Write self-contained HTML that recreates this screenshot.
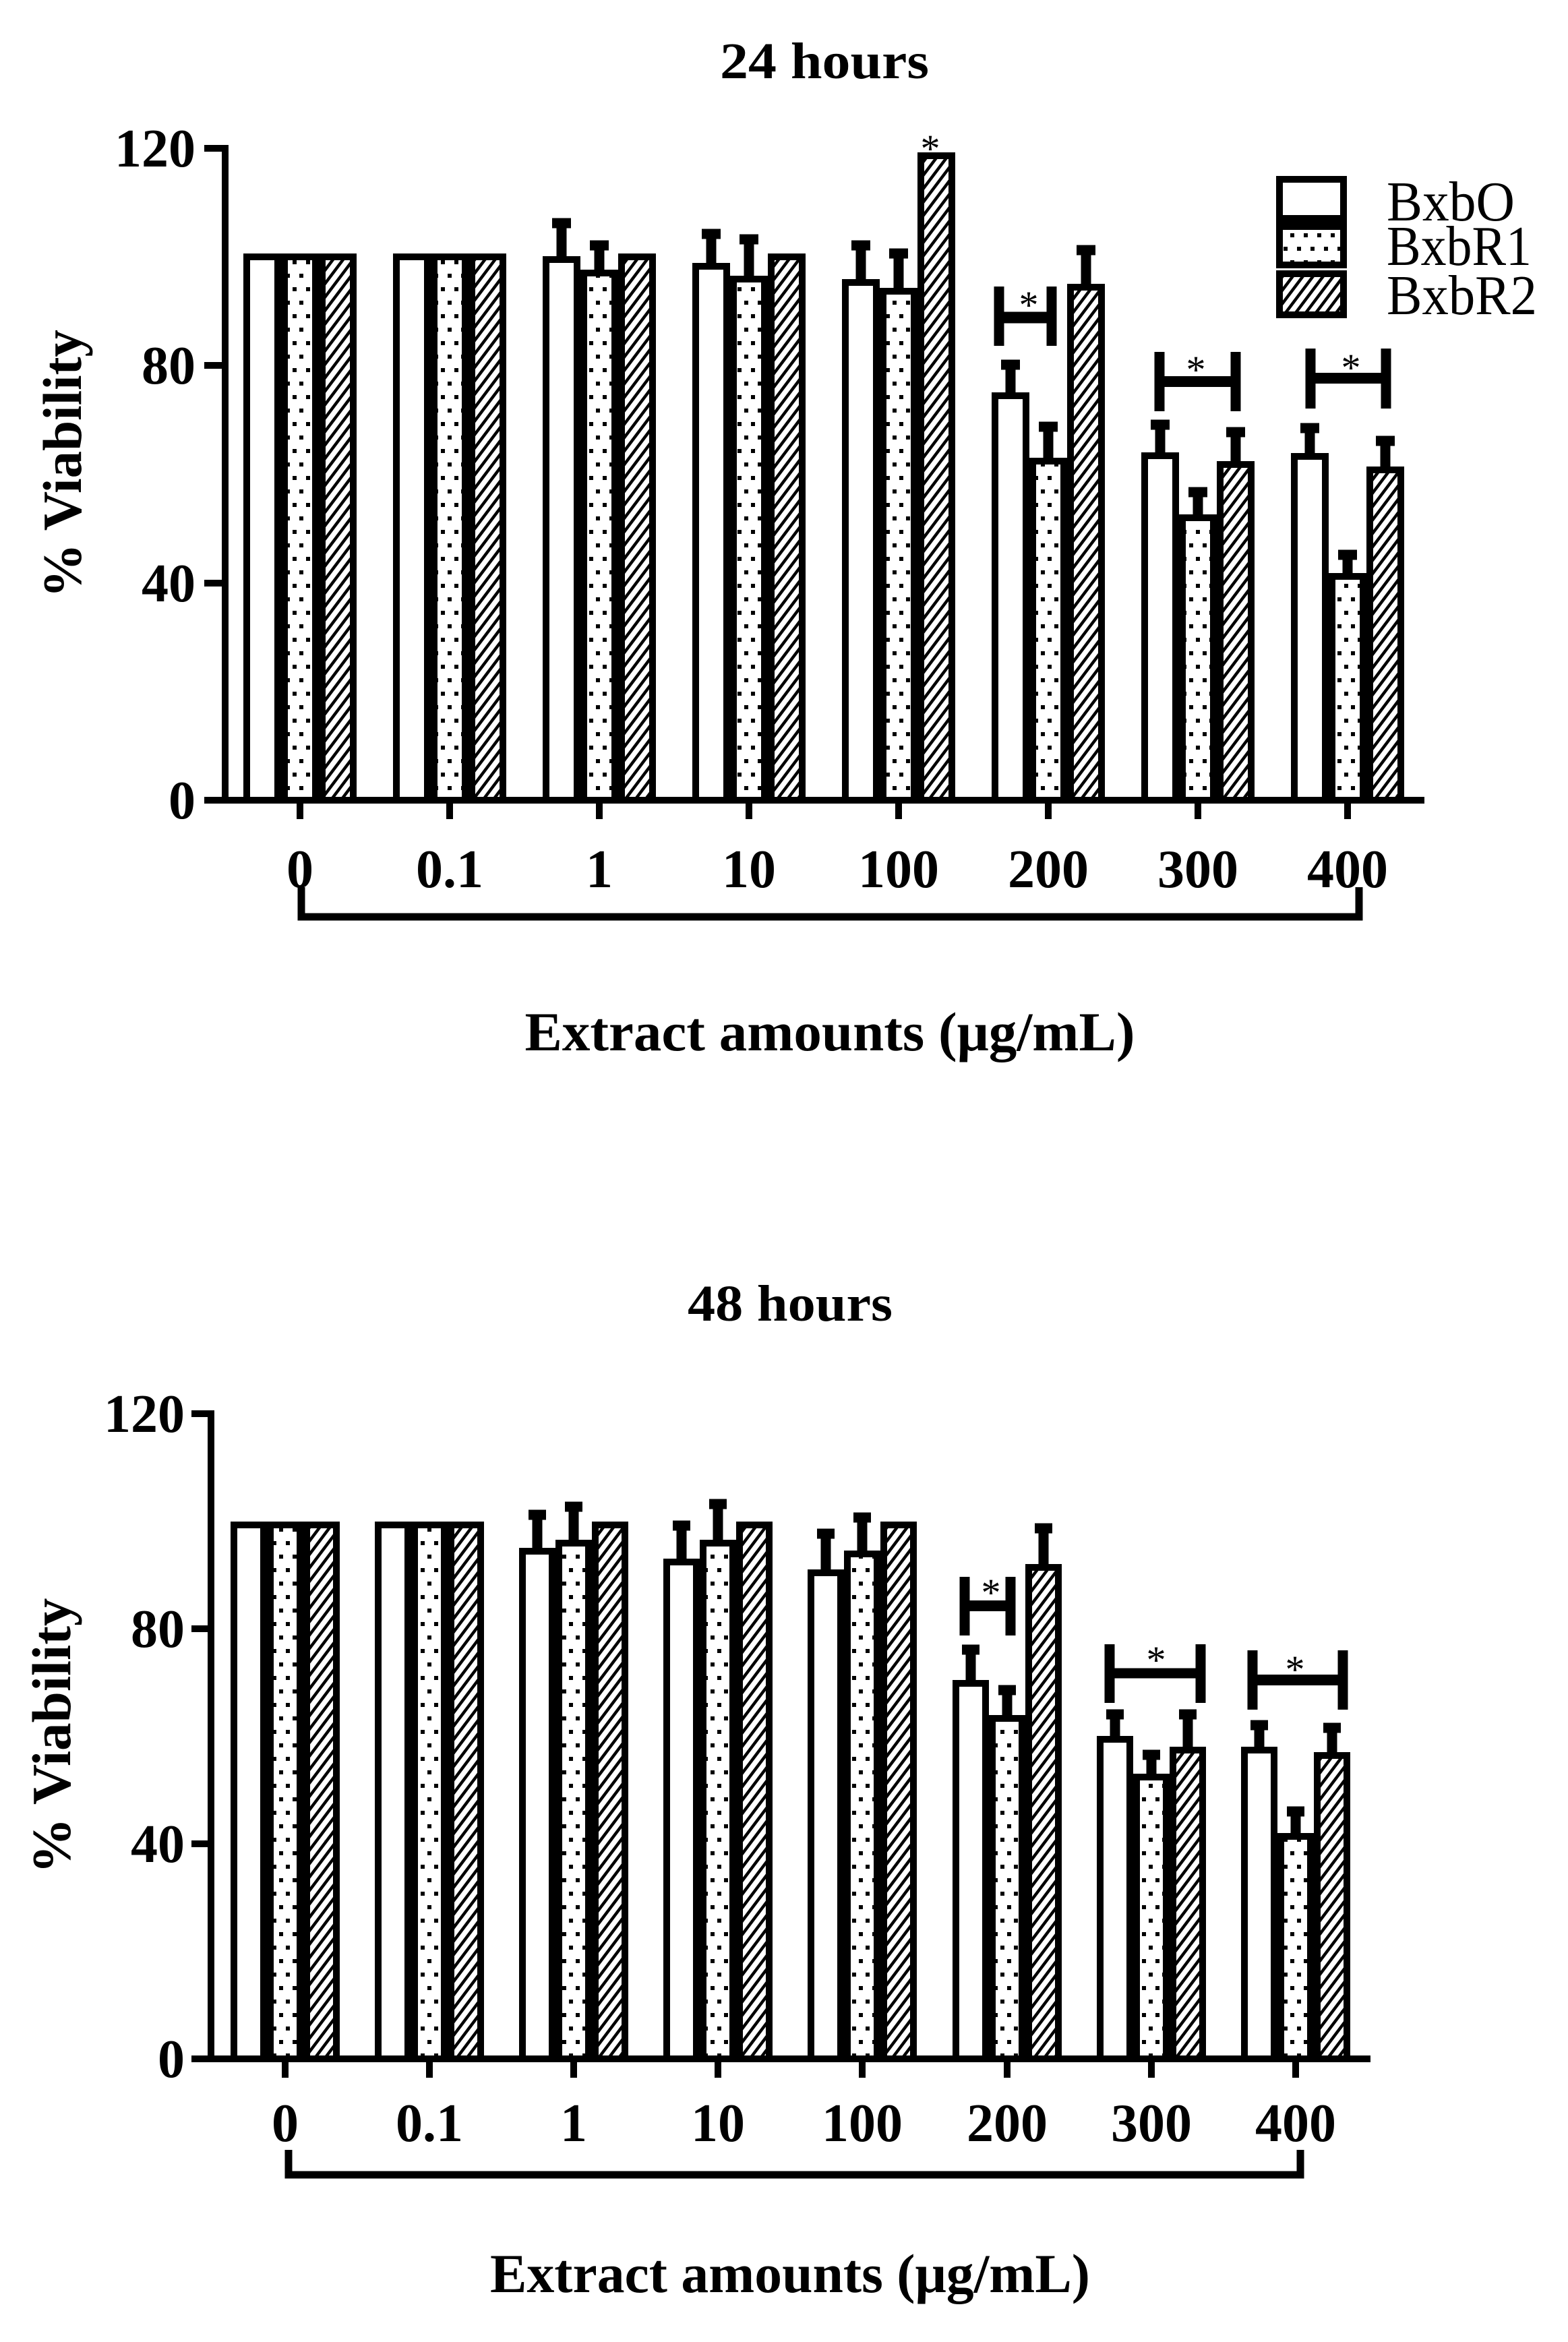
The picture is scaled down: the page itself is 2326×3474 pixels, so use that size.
<!DOCTYPE html>
<html><head><meta charset="utf-8"><style>html,body{margin:0;padding:0;background:#fff}svg{display:block}</style></head>
<body>
<svg xmlns="http://www.w3.org/2000/svg" width="2326" height="3474" viewBox="0 0 2326 3474">
<defs>
<pattern id="dots" width="20" height="40" patternUnits="userSpaceOnUse">
<rect x="4" y="6" width="6" height="6" fill="#000"/><rect x="14" y="26" width="6" height="6" fill="#000"/>
</pattern>
<pattern id="hatch" width="12" height="12" patternUnits="userSpaceOnUse" patternTransform="rotate(37)">
<rect x="0" y="0" width="4.5" height="12" fill="#000"/>
</pattern>
</defs>
<g font-family="Liberation Serif, serif" fill="#000">
<!-- ===== Chart 1 ===== -->
<text x="1223" y="116" font-size="76" font-weight="bold" text-anchor="middle" textLength="310" lengthAdjust="spacingAndGlyphs">24 hours</text>
<text transform="translate(120,688) rotate(-90)" font-size="82" font-weight="bold" text-anchor="middle" textLength="398" lengthAdjust="spacingAndGlyphs">% Viability</text>
<g font-size="80" font-weight="bold" text-anchor="end">
<text x="290" y="247">120</text><text x="290" y="569">80</text><text x="290" y="892">40</text><text x="290" y="1214">0</text>
</g>
<g stroke="#000" stroke-width="10" fill="none">
<line x1="334" y1="215" x2="334" y2="1192"/>
<line x1="303" y1="220" x2="334" y2="220"/><line x1="303" y1="542" x2="334" y2="542"/><line x1="303" y1="865" x2="334" y2="865"/>
<line x1="303" y1="1187" x2="2113" y2="1187"/>
<line x1="445" y1="1187" x2="445" y2="1215"/><line x1="667" y1="1187" x2="667" y2="1215"/><line x1="889" y1="1187" x2="889" y2="1215"/><line x1="1111" y1="1187" x2="1111" y2="1215"/><line x1="1333" y1="1187" x2="1333" y2="1215"/><line x1="1555" y1="1187" x2="1555" y2="1215"/><line x1="1777" y1="1187" x2="1777" y2="1215"/><line x1="1999" y1="1187" x2="1999" y2="1215"/>
</g>
<g font-size="80" font-weight="bold" text-anchor="middle">
<text x="445" y="1316">0</text><text x="667" y="1316">0.1</text><text x="889" y="1316">1</text><text x="1111" y="1316">10</text><text x="1333" y="1316">100</text><text x="1555" y="1316">200</text><text x="1777" y="1316">300</text><text x="1999" y="1316">400</text>
</g>
<path d="M447 1316 V1360 H2016 V1316" stroke="#000" stroke-width="11" fill="none"/>
<text x="1231" y="1558" font-size="82" font-weight="bold" text-anchor="middle" textLength="905" lengthAdjust="spacingAndGlyphs">Extract amounts (μg/mL)</text>

<g stroke="#000" stroke-width="10">
<rect x="366" y="381" width="46" height="806" fill="#fff"/><rect x="422" y="381" width="46" height="806" fill="url(#dots)"/><rect x="478" y="381" width="46" height="806" fill="url(#hatch)"/>
<rect x="588" y="381" width="46" height="806" fill="#fff"/><rect x="644" y="381" width="46" height="806" fill="url(#dots)"/><rect x="700" y="381" width="46" height="806" fill="url(#hatch)"/>
<rect x="810" y="385" width="46" height="802" fill="#fff"/><rect x="866" y="405" width="46" height="782" fill="url(#dots)"/><rect x="922" y="381" width="46" height="806" fill="url(#hatch)"/>
<rect x="1032" y="395" width="46" height="792" fill="#fff"/><rect x="1088" y="414" width="46" height="773" fill="url(#dots)"/><rect x="1144" y="381" width="46" height="806" fill="url(#hatch)"/>
<rect x="1254" y="419" width="46" height="768" fill="#fff"/><rect x="1310" y="432" width="46" height="755" fill="url(#dots)"/><rect x="1366" y="231" width="46" height="956" fill="url(#hatch)"/>
<rect x="1476" y="587" width="46" height="600" fill="#fff"/><rect x="1532" y="684" width="46" height="503" fill="url(#dots)"/><rect x="1588" y="426" width="46" height="761" fill="url(#hatch)"/>
<rect x="1698" y="676" width="46" height="511" fill="#fff"/><rect x="1754" y="768" width="46" height="419" fill="url(#dots)"/><rect x="1810" y="689" width="46" height="498" fill="url(#hatch)"/>
<rect x="1920" y="677" width="46" height="510" fill="#fff"/><rect x="1976" y="855" width="46" height="332" fill="url(#dots)"/><rect x="2032" y="697" width="46" height="490" fill="url(#hatch)"/>
</g>
<g stroke="#000" stroke-width="15" fill="none">
<path d="M833 380 V324 M819 331 H847"/><path d="M889 400 V357 M875 364 H903"/>
<path d="M1055 390 V340 M1041 347 H1069"/><path d="M1111 409 V348 M1097 355 H1125"/>
<path d="M1277 414 V357 M1263 364 H1291"/><path d="M1333 427 V369 M1319 376 H1347"/>
<path d="M1499 582 V534 M1485 541 H1513"/><path d="M1555 679 V626 M1541 633 H1569"/><path d="M1611 421 V364 M1597 371 H1625"/>
<path d="M1721 671 V623 M1707 630 H1735"/><path d="M1777 763 V723 M1763 730 H1791"/><path d="M1833 684 V634 M1819 641 H1847"/>
<path d="M1943 672 V628 M1929 635 H1957"/><path d="M1999 850 V816 M1985 823 H2013"/><path d="M2055 692 V647 M2041 654 H2069"/>
</g>
<g stroke="#000" stroke-width="15" fill="none">
<path d="M1482 425 V513 M1560 425 V513"/><line x1="1482" y1="471" x2="1560" y2="471" stroke-width="17"/>
<path d="M1720 522 V610 M1833 522 V610"/><line x1="1720" y1="566" x2="1833" y2="566" stroke-width="16"/>
<path d="M1944 517 V606 M2056 517 V606"/><line x1="1944" y1="561" x2="2056" y2="561" stroke-width="16"/>
</g>
<g font-size="58" text-anchor="middle">
<text x="1526" y="472">*</text><text x="1774" y="568">*</text><text x="2004" y="565">*</text><text x="1380" y="240">*</text>
</g>
<g stroke="#000" stroke-width="10">
<rect x="1898" y="266" width="95" height="58" fill="#fff"/>
<rect x="1898" y="336" width="95" height="57" fill="url(#dots)"/>
<rect x="1898" y="406" width="95" height="61" fill="url(#hatch)"/>
<line x1="1893" y1="330" x2="1998" y2="330" stroke-width="12"/>
</g>
<g font-size="84">
<text x="2057" y="327" textLength="190" lengthAdjust="spacingAndGlyphs">BxbO</text><text x="2057" y="393" textLength="215" lengthAdjust="spacingAndGlyphs">BxbR1</text><text x="2057" y="466" textLength="223" lengthAdjust="spacingAndGlyphs">BxbR2</text>
</g>

<!-- ===== Chart 2 ===== -->
<text x="1172" y="1959" font-size="76" font-weight="bold" text-anchor="middle" textLength="304" lengthAdjust="spacingAndGlyphs">48 hours</text>
<text transform="translate(104,2575) rotate(-90)" font-size="82" font-weight="bold" text-anchor="middle" textLength="409" lengthAdjust="spacingAndGlyphs">% Viability</text>
<g font-size="80" font-weight="bold" text-anchor="end">
<text x="274" y="2124">120</text><text x="274" y="2443">80</text><text x="274" y="2762">40</text><text x="274" y="3081">0</text>
</g>
<g stroke="#000" stroke-width="10" fill="none">
<line x1="313" y1="2092" x2="313" y2="3059"/>
<line x1="284" y1="2097" x2="313" y2="2097"/><line x1="284" y1="2416" x2="313" y2="2416"/><line x1="284" y1="2735" x2="313" y2="2735"/>
<line x1="284" y1="3054" x2="2033" y2="3054"/>
<line x1="423" y1="3054" x2="423" y2="3082"/><line x1="637" y1="3054" x2="637" y2="3082"/><line x1="851" y1="3054" x2="851" y2="3082"/><line x1="1065" y1="3054" x2="1065" y2="3082"/><line x1="1279" y1="3054" x2="1279" y2="3082"/><line x1="1494" y1="3054" x2="1494" y2="3082"/><line x1="1708" y1="3054" x2="1708" y2="3082"/><line x1="1922" y1="3054" x2="1922" y2="3082"/>
</g>
<g font-size="80" font-weight="bold" text-anchor="middle">
<text x="423" y="3176">0</text><text x="637" y="3176">0.1</text><text x="851" y="3176">1</text><text x="1065" y="3176">10</text><text x="1279" y="3176">100</text><text x="1494" y="3176">200</text><text x="1708" y="3176">300</text><text x="1922" y="3176">400</text>
</g>
<path d="M428 3189 V3226 H1929 V3189" stroke="#000" stroke-width="11" fill="none"/>
<text x="1172" y="3400" font-size="82" font-weight="bold" text-anchor="middle" textLength="890" lengthAdjust="spacingAndGlyphs">Extract amounts (μg/mL)</text>

<g stroke="#000" stroke-width="10">
<rect x="347" y="2262" width="44" height="792" fill="#fff"/><rect x="401" y="2262" width="44" height="792" fill="url(#dots)"/><rect x="455" y="2262" width="44" height="792" fill="url(#hatch)"/>
<rect x="561" y="2262" width="44" height="792" fill="#fff"/><rect x="615" y="2262" width="44" height="792" fill="url(#dots)"/><rect x="669" y="2262" width="44" height="792" fill="url(#hatch)"/>
<rect x="775" y="2301" width="44" height="753" fill="#fff"/><rect x="829" y="2289" width="44" height="765" fill="url(#dots)"/><rect x="883" y="2262" width="44" height="792" fill="url(#hatch)"/>
<rect x="989" y="2317" width="44" height="737" fill="#fff"/><rect x="1043" y="2289" width="44" height="765" fill="url(#dots)"/><rect x="1097" y="2262" width="44" height="792" fill="url(#hatch)"/>
<rect x="1203" y="2333" width="44" height="721" fill="#fff"/><rect x="1257" y="2305" width="44" height="749" fill="url(#dots)"/><rect x="1311" y="2262" width="44" height="792" fill="url(#hatch)"/>
<rect x="1418" y="2497" width="44" height="557" fill="#fff"/><rect x="1472" y="2549" width="44" height="505" fill="url(#dots)"/><rect x="1526" y="2325" width="44" height="729" fill="url(#hatch)"/>
<rect x="1632" y="2580" width="44" height="474" fill="#fff"/><rect x="1686" y="2636" width="44" height="418" fill="url(#dots)"/><rect x="1740" y="2596" width="44" height="458" fill="url(#hatch)"/>
<rect x="1846" y="2596" width="44" height="458" fill="#fff"/><rect x="1900" y="2724" width="44" height="330" fill="url(#dots)"/><rect x="1954" y="2604" width="44" height="450" fill="url(#hatch)"/>
</g>
<g stroke="#000" stroke-width="15" fill="none">
<path d="M797 2296 V2246 M784 2247 H810"/><path d="M851 2284 V2234 M838 2235 H864"/>
<path d="M1011 2312 V2262 M998 2263 H1024"/><path d="M1065 2284 V2230 M1052 2231 H1078"/>
<path d="M1225 2328 V2274 M1212 2275 H1238"/><path d="M1279 2300 V2250 M1266 2251 H1292"/>
<path d="M1440 2492 V2446 M1427 2447 H1453"/><path d="M1494 2544 V2506 M1481 2507 H1507"/><path d="M1548 2320 V2266 M1535 2267 H1561"/>
<path d="M1654 2575 V2542 M1641 2543 H1667"/><path d="M1708 2631 V2602 M1695 2603 H1721"/><path d="M1762 2591 V2542 M1749 2543 H1775"/>
<path d="M1868 2591 V2558 M1855 2559 H1881"/><path d="M1922 2719 V2686 M1909 2687 H1935"/><path d="M1976 2599 V2562 M1963 2563 H1989"/>
</g>
<g stroke="#000" stroke-width="15" fill="none">
<path d="M1431 2339 V2426 M1499 2339 V2426"/><line x1="1431" y1="2382" x2="1499" y2="2382" stroke-width="16"/>
<path d="M1646 2439 V2526 M1781 2439 V2526"/><line x1="1646" y1="2482" x2="1781" y2="2482" stroke-width="15"/>
<path d="M1858 2448 V2536 M1992 2448 V2536"/><line x1="1858" y1="2492" x2="1992" y2="2492" stroke-width="16"/>
</g>
<g font-size="58" text-anchor="middle">
<text x="1470" y="2382">*</text><text x="1715" y="2482">*</text><text x="1921" y="2496">*</text>
</g>
</g>
</svg>
</body></html>
